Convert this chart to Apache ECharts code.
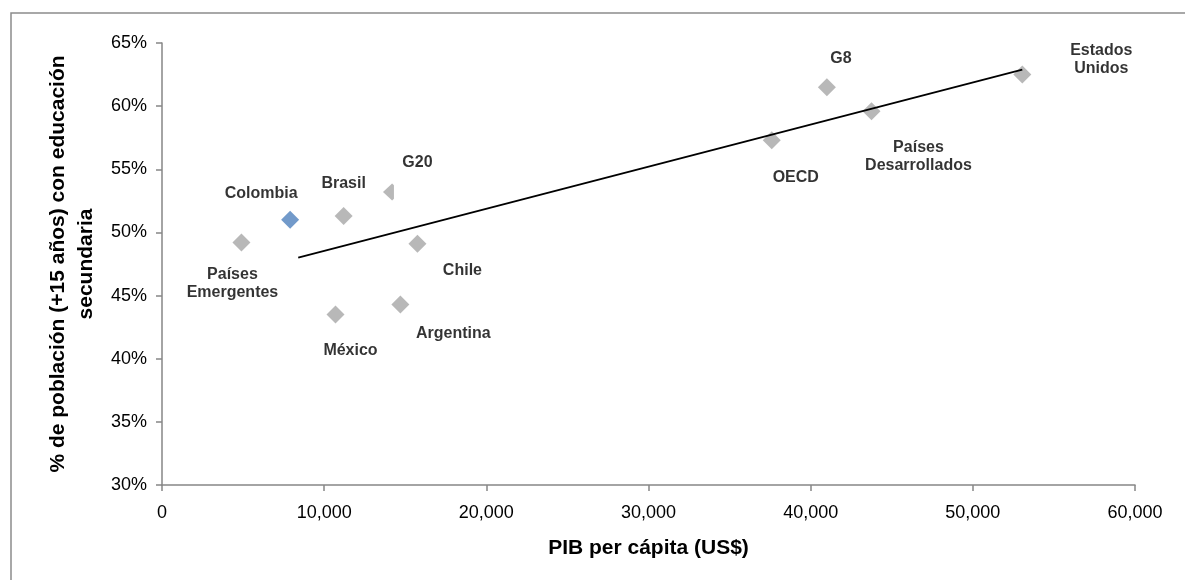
<!DOCTYPE html>
<html>
<head>
<meta charset="utf-8">
<script src="https://cdn.jsdelivr.net/npm/echarts@6/dist/echarts.min.js"></script>
<style>
  html, body { margin: 0; padding: 0; background: #ffffff; }
  #chart { width: 1185px; height: 580px; }
</style>
</head>
<body>
<div id="chart"></div>
<script>
// GDP per capita (US$) vs. share of population 15+ with secondary education (%)
const groups = ['Países Emergentes', 'Colombia', 'Brasil', 'G20', 'Chile', 'México', 'Argentina', 'OECD', 'G8', 'Países Desarrollados', 'Estados Unidos'];
const pibPerCapita = [4900, 7900, 11200, 14150, 15750, 10700, 14700, 37600, 41000, 43750, 53050];
const educacionSecundaria = [49.2, 51.0, 51.3, 53.2, 49.1, 43.5, 44.3, 57.3, 61.5, 59.6, 62.5];
const labelTexts = ['Países\nEmergentes', 'Colombia', 'Brasil', 'G20', 'Chile', 'México', 'Argentina', 'OECD', 'G8', 'Países\nDesarrollados', 'Estados\nUnidos'];

// Linear trend line endpoints
const trendX = [8400, 53050];
const trendY = [48.0, 62.9];

// Label placement around each marker (px)
const labelOffsets = [[-9, 41], [-29, -26], [0, -32], [29, -29], [45, 27], [15, 36], [53, 29], [24, 37], [14, -29], [47, 45], [79, -15]];

const FONT = '"Liberation Sans", Arial, sans-serif';
const GREY = '#a6a6a6';
const BLUE = '#4f81bd';

const scatterData = groups.map((g, i) => {
  const item = {
    name: g,
    value: [pibPerCapita[i], educacionSecundaria[i]],
    label: { formatter: labelTexts[i], offset: labelOffsets[i] }
  };
  if (g === 'Colombia') item.itemStyle = { color: BLUE };
  if (g === 'G20') {
    // marker partly hidden behind its label box
    item.symbol = 'path://M0,10 L10,0 L12,2 L12,18 L10,20 Z';
    item.symbolSize = [11, 17];
    item.symbolOffset = [-3, 0];
  }
  return item;
});

const chart = echarts.init(document.getElementById('chart'), null, { renderer: 'canvas' });
chart.setOption({
  animation: false,
  backgroundColor: '#ffffff',
  graphic: [{
    type: 'rect',
    shape: { x: 11, y: 13, width: 1200, height: 620 },
    style: { fill: 'none', stroke: '#8c8c8c', lineWidth: 1.5 },
    silent: true
  }],
  grid: { left: 162, right: 50, top: 43, bottom: 95, containLabel: false },
  xAxis: {
    type: 'value',
    min: 0, max: 60000, interval: 10000,
    name: 'PIB per cápita (US$)',
    nameLocation: 'middle',
    nameGap: 53,
    nameTextStyle: { fontFamily: FONT, fontWeight: 'bold', fontSize: 21, color: '#000' },
    axisLine: { show: true, lineStyle: { color: '#868686', width: 1.5 } },
    axisTick: { show: true, length: 6, lineStyle: { color: '#868686', width: 1.5 } },
    axisLabel: {
      fontFamily: FONT, fontSize: 18, color: '#000', margin: 19,
      formatter: v => v.toLocaleString('en-US')
    },
    splitLine: { show: false }
  },
  yAxis: {
    type: 'value',
    min: 30, max: 65, interval: 5,
    name: '% de población (+15 años) con educación\nsecundaria',
    nameLocation: 'middle',
    nameRotate: 90,
    nameGap: 55,
    nameTextStyle: { fontFamily: FONT, fontWeight: 'bold', fontSize: 21, color: '#000', lineHeight: 28, align: 'center' },
    axisLine: { show: true, lineStyle: { color: '#868686', width: 1.5 } },
    axisTick: { show: true, length: 6, lineStyle: { color: '#868686', width: 1.5 } },
    axisLabel: {
      fontFamily: FONT, fontSize: 18, color: '#000', margin: 15,
      formatter: '{value}%'
    },
    splitLine: { show: false }
  },
  series: [
    {
      type: 'scatter',
      symbol: 'diamond',
      symbolSize: 18,
      itemStyle: { color: GREY },
      label: {
        show: true,
        position: 'inside',
        align: 'center',
        verticalAlign: 'middle',
        fontFamily: FONT,
        fontWeight: 'bold',
        fontSize: 16,
        lineHeight: 18,
        color: '#000'
      },
      data: scatterData,
      z: 2
    },
    {
      type: 'line',
      data: trendX.map((x, i) => [x, trendY[i]]),
      symbol: 'none',
      lineStyle: { color: '#000', width: 1.8 },
      silent: true,
      z: 3
    }
  ]
});
</script>
</body>
</html>
